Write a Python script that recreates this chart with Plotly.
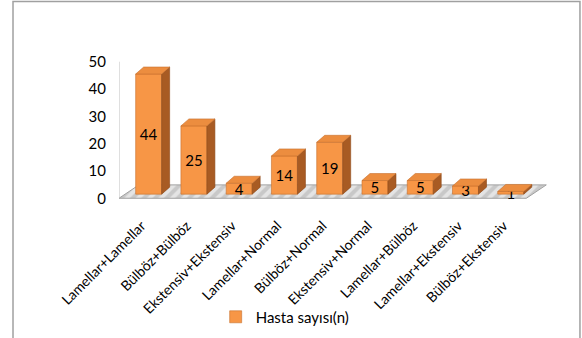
import plotly.graph_objects as go

categories = ["Lamellar+Lamellar", "Bülböz+Bülböz", "Ekstensiv+Ekstensiv", "Lamellar+Normal",
              "Bülböz+Normal", "Ekstensiv+Normal", "Lamellar+Bülböz", "Lamellar+Ekstensiv",
              "Bülböz+Ekstensiv"]
values = [44, 25, 4, 14, 19, 5, 5, 3, 1]
series_name = "Hasta sayısı(n)"
y_ticks = [0, 10, 20, 30, 40, 50]

FONT = "Lato, 'Open Sans', sans-serif"
FRONT = "#F79646"
SIDE = "#A85B23"
TOP = "#EC8D3F"
EDGE = "#C8702E"

# geometry of the fake 3D look (data units)
XR = [-0.5, 9.0]
YR = [-1, 51]
bar_dx = 0.155      # bar front face shift to the right of the category position
bar_base = 1.5      # bar front face sits slightly above the floor front edge
bar_w = 0.574
ddx, ddy = 0.177, 2.56   # bar depth
fdx, fdy = 0.44, 4.9     # floor depth

n = len(categories)
xs = [i + bar_dx for i in range(n)]

fig = go.Figure()

# floor (main subplot -> drawn beneath the overlay subplot)
fx = [-0.5, n - 0.5, n - 0.5 + fdx, -0.5 + fdx, -0.5]
fy = [0, 0, fdy, fdy, 0]
fig.add_trace(go.Scatter(x=fx, y=fy, mode="lines", fill="toself",
                         line=dict(color="#A0A0A0", width=1),
                         fillcolor="#DADADA",
                         fillpattern=dict(shape="/", bgcolor="#C8C8C8", fgcolor="#FFFFFF",
                                          size=8, solidity=0.5),
                         hoverinfo="skip", showlegend=False, xaxis="x", yaxis="y"))
# vertical axis line at the front-left corner
fig.add_trace(go.Scatter(x=[-0.5, -0.5], y=[0, 50], mode="lines",
                         line=dict(color="#BFBFBF", width=1),
                         hoverinfo="skip", showlegend=False, xaxis="x", yaxis="y"))

# front faces
fig.add_trace(go.Bar(x=xs, y=values, base=bar_base, width=bar_w, name=series_name,
                     marker=dict(color=FRONT, line=dict(color=EDGE, width=0.6)),
                     text=[str(v) for v in values], textposition="inside", textangle=0,
                     insidetextanchor="middle", constraintext="none",
                     textfont=dict(family=FONT, size=15, color="#000000"),
                     xaxis="x2", yaxis="y2", showlegend=True))

# side and top faces
sx, sy, tx, ty = [], [], [], []
for x, v in zip(xs, values):
    xl, xr = x - bar_w / 2, x + bar_w / 2
    b, t = bar_base, bar_base + v
    sx += [xr, xr + ddx, xr + ddx, xr, xr, None]
    sy += [b, b + ddy, t + ddy, t, b, None]
    tx += [xl, xr, xr + ddx, xl + ddx, xl, None]
    ty += [t, t, t + ddy, t + ddy, t, None]
fig.add_trace(go.Scatter(x=sx, y=sy, mode="lines", fill="toself", fillcolor=SIDE,
                         line=dict(color="#8E4A1A", width=0.6), hoverinfo="skip",
                         showlegend=False, xaxis="x2", yaxis="y2"))
fig.add_trace(go.Scatter(x=tx, y=ty, mode="lines", fill="toself", fillcolor=TOP,
                         line=dict(color=EDGE, width=0.6), hoverinfo="skip",
                         showlegend=False, xaxis="x2", yaxis="y2"))

fig.update_layout(
    width=582, height=338,
    margin=dict(l=119, r=33, t=59, b=137, autoexpand=False),
    paper_bgcolor="white", plot_bgcolor="rgba(0,0,0,0)",
    font=dict(family=FONT, color="#000000"),
    uniformtext=dict(minsize=15, mode="show"),
    barmode="overlay",
    xaxis=dict(range=XR, tickmode="array", tickvals=list(range(n)), ticktext=categories,
               tickangle=-45, tickfont=dict(size=14, family=FONT), showgrid=False,
               zeroline=False, showline=False, ticks="", ticklabelstandoff=13,
               automargin=False),
    yaxis=dict(range=YR, tickmode="array", tickvals=y_ticks, tickfont=dict(size=15, family=FONT),
               showgrid=False, zeroline=False, showline=False, ticks="", ticklabelstandoff=12,
               automargin=False),
    xaxis2=dict(range=XR, overlaying="x", visible=False),
    yaxis2=dict(range=YR, overlaying="y", visible=False),
    showlegend=True,
    legend=dict(orientation="h", xref="container", yref="container", x=0.49, y=0.062,
                xanchor="center", yanchor="middle", font=dict(size=15, family=FONT),
                itemwidth=30, bgcolor="rgba(0,0,0,0)"),
    shapes=[dict(type="rect", xref="paper", yref="paper", x0=-0.2465, x1=1.072,
                 y0=-1.05, y1=1.405, line=dict(color="#A0A0A0", width=1.5),
                 fillcolor="rgba(0,0,0,0)", layer="below")],
)

fig.write_html("out.html", config={"displayModeBar": False},
               post_script="document.body.style.margin='0';document.body.style.overflow='hidden';")
